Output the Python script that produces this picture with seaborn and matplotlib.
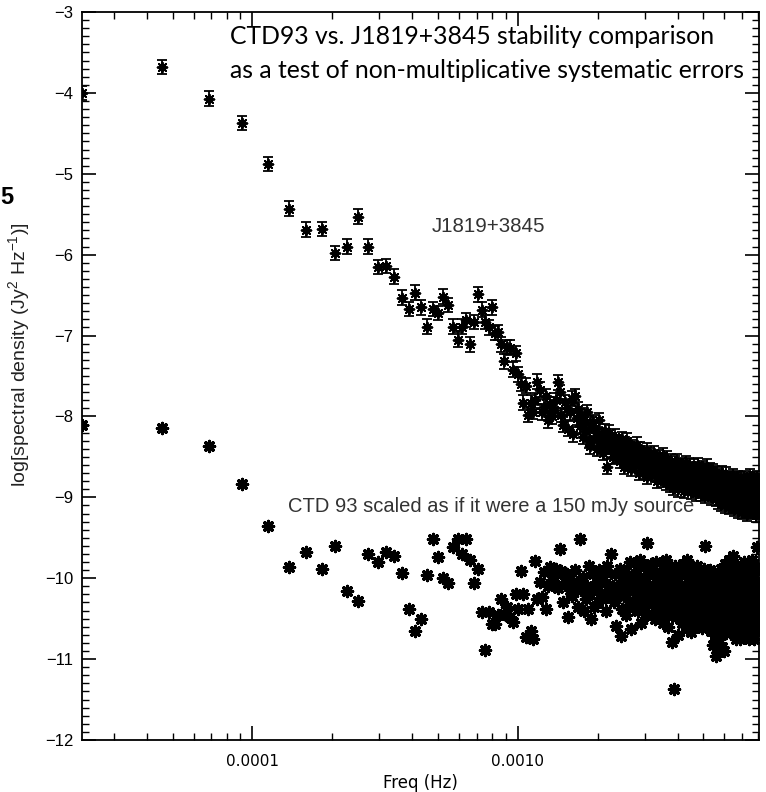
import numpy as np
import matplotlib
matplotlib.use("Agg")
import matplotlib.pyplot as plt
import seaborn as sns
from matplotlib.ticker import FixedLocator, FixedFormatter, MultipleLocator, LogLocator, NullFormatter

# ---------------- data ----------------
freq_step_hz = 2.28e-5          # periodogram frequency spacing (Hz)

j1819_logpsd = [
    -4.00, -3.68, -4.07, -4.37, -4.88, -5.43, -5.69, -5.68, -5.98, -5.90,
    -5.53, -5.90, -6.15, -6.14, -6.27, -6.53, -6.67, -6.47, -6.65, -6.89,
    -6.67, -6.72, -6.52, -6.62, -6.89, -7.05, -6.89, -6.81, -7.11, -6.83,
    -6.49, -6.68, -6.83, -6.90, -6.65, -6.97, -6.96, -7.11, -7.32, -7.14,
    -7.15, -7.42, -7.22, -7.48, -7.60, -7.83, -7.62, -7.98, -7.83, -7.94,
    -7.80, -7.57, -7.67, -7.95, -7.88, -7.75, -8.05, -7.85, -8.00, -7.92,
    -7.80, -7.58, -7.70, -7.98, -8.10, -7.82, -7.89, -8.15, -7.95, -7.78,
    -8.22, -7.75, -8.02, -7.91, -8.12, -7.98, -8.25, -8.05, -8.18, -7.95,
    -8.30, -8.37, -8.10, -8.07, -8.28, -8.15, -8.40, -8.22, -8.05, -8.33,
    -8.25, -8.45, -8.18, -8.35, -8.62, -8.28, -8.20, -8.42, -8.30, -8.50,
    -8.38, -8.25, -8.48, -8.32, -8.32, -8.55, -8.40, -8.28, -8.45, -8.62,
    -8.35, -8.50, -8.30, -8.58, -8.42, -8.48, -8.65, -8.38, -8.49, -8.55,
    -8.45, -8.60, -8.35, -8.52, -8.70, -8.48, -8.40, -8.62, -8.55, -8.45,
    -8.68, -8.50, -8.58, -8.42, -8.75, -8.55, -8.62, -8.48, -8.70, -8.58,
    -8.52, -8.65, -8.45, -8.72, -8.60, -8.55, -8.80, -8.62, -8.50, -8.68,
    -8.55, -8.72, -8.62, -8.48, -8.78, -8.65, -8.58, -8.82, -8.68, -8.52,
    -8.75, -8.60, -8.70, -8.85, -8.55, -8.66, -8.78, -8.62, -8.88, -8.70,
    -8.58, -8.74, -8.68, -8.82, -8.56, -8.90, -8.72, -8.64, -8.80, -8.60,
    -8.76, -8.85, -8.62, -8.70, -8.92, -8.66, -8.78, -8.58, -8.84, -8.72,
    -8.68, -8.88, -8.75, -8.60, -8.82, -8.70, -8.93, -8.65, -8.78, -8.74,
    -8.80, -8.62, -8.88, -8.72, -8.95, -8.68, -8.84, -8.76, -8.60, -8.90,
    -8.74, -8.82, -8.66, -8.96, -8.78, -8.70, -8.88, -8.64, -8.85, -8.92,
    -8.72, -8.80, -8.98, -8.68, -8.86, -8.76, -8.62, -8.94, -8.82, -8.70,
    -8.90, -8.78, -8.66, -9.00, -8.84, -8.74, -8.92, -8.80, -8.68, -8.96,
    -8.82, -8.70, -8.88, -9.02, -8.76, -8.86, -8.72, -8.94, -8.80, -9.05,
    -8.84, -8.74, -8.96, -8.88, -9.08, -8.78, -8.92, -8.70, -9.00, -8.86,
    -8.76, -9.04, -8.90, -8.80, -9.10, -8.84, -8.72, -8.98, -8.88, -9.06,
    -8.82, -8.94, -8.76, -9.12, -8.86, -8.98, -8.78, -9.02, -8.90, -8.80,
    -9.08, -8.88, -8.96, -8.74, -9.14, -8.92, -8.84, -9.00, -8.78, -9.10,
    -8.90, -8.82, -9.04, -8.96, -8.76, -9.16, -8.88, -9.00, -8.84, -9.06,
    -8.86, -9.02, -8.78, -9.12, -8.94, -8.84, -9.18, -8.90, -9.04, -8.80,
    -9.08, -8.92, -8.76, -9.14, -8.98, -8.86, -9.06, -8.82, -9.20, -8.94,
    -8.88, -9.10, -8.80, -9.02, -8.96, -9.16, -8.84, -9.04, -8.74, -9.12,
    -8.92, -9.00, -8.82, -9.18, -8.90, -9.06, -8.78, -9.10, -8.96, -8.86,
    -9.14, -8.94, -9.02, -8.80, -9.22, -8.92, -9.08, -8.86, -9.00, -8.76,
    -9.12, -8.96, -9.04, -8.84, -9.18, -8.92,
]
j1819_err = 0.09

ctd93_logpsd = [
    -8.10, -8.14, -8.37, -8.83, -9.36, -9.86, -9.67, -9.89, -9.60, -10.16,
    -10.28, -9.70, -9.80, -9.68, -9.73, -9.93, -10.38, -10.65, -10.51, -9.96,
    -9.51, -9.74, -10.00, -10.06, -9.62, -9.51, -9.70, -9.52, -9.77, -10.06,
    -9.89, -10.42, -10.89, -10.42, -10.57, -10.57, -10.45, -10.26, -10.44, -10.35,
    -10.48, -10.54, -10.20, -10.38, -9.91, -10.20, -10.73, -10.38, -10.65, -10.75,
    -9.79, -10.26, -10.05, -10.23, -9.92, -10.38, -10.10, -9.86, -10.02, -9.98,
    -9.89, -10.12, -9.64, -9.91, -10.30, -10.05, -9.95, -10.48, -10.14, -10.22,
    -10.05, -9.90, -10.09, -10.35, -9.52, -10.15, -9.98, -10.40, -10.26, -10.10,
    -9.85, -10.20, -10.51, -9.95, -10.36, -10.12, -10.05, -10.30, -9.90, -10.18,
    -10.26, -10.02, -9.92, -10.40, -9.85, -10.15, -10.08, -9.70, -10.25, -10.14,
    -10.30, -9.95, -10.59, -10.10, -10.20, -9.88, -10.72, -10.38, -10.05, -10.22,
    -9.92, -10.45, -10.15, -10.00, -10.28, -9.80, -10.63, -9.98, -10.35, -10.12,
    -10.05, -10.25, -9.90, -10.40, -10.15, -9.78, -10.30, -10.55, -10.02, -10.18,
    -9.85, -10.35, -10.08, -9.56, -10.45, -10.20, -9.95, -10.28, -9.83, -10.12,
    -10.30, -9.92, -10.18, -10.50, -10.05, -9.80, -10.38, -10.12, -10.25, -9.95,
    -10.42, -10.08, -10.22, -9.88, -10.55, -10.15, -10.32, -9.77, -10.45, -10.02,
    -10.20, -10.60, -9.90, -10.28, -10.10, -10.40, -10.79, -10.05, -10.35, -11.37,
    -10.15, -9.85, -10.48, -10.22, -10.00, -10.70, -10.30, -9.92, -10.42, -10.18,
    -10.08, -10.55, -9.82, -10.25, -10.38, -10.12, -9.95, -10.45, -10.20, -10.62,
    -9.77, -10.32, -10.10, -10.50, -10.02, -10.28, -10.67, -9.90, -10.40, -10.15,
    -10.22, -10.48, -9.95, -10.35, -10.10, -10.58, -10.25, -9.85, -10.42, -10.18,
    -10.05, -10.52, -10.30, -9.92, -10.40, -10.15, -10.62, -10.00, -10.35, -10.22,
    -9.88, -9.60, -10.45, -10.12, -10.30, -10.55, -9.98, -10.25, -10.40, -10.08,
    -10.50, -10.18, -9.90, -10.35, -10.65, -10.05, -10.28, -10.45, -10.82, -10.15,
    -9.95, -10.38, -10.70, -10.22, -10.96, -10.10, -10.55, -10.30, -10.88, -10.02,
    -10.40, -10.75, -10.15, -10.60, -9.88, -10.32, -10.85, -10.20, -10.50, -10.05,
    -10.35, -10.90, -10.12, -9.82, -10.45, -10.25, -10.68, -9.95, -10.38, -10.18,
    -10.55, -10.08, -10.30, -9.78, -10.48, -10.20, -10.62, -10.02, -10.40, -10.15,
    -9.90, -10.52, -10.28, -9.73, -10.42, -10.12, -10.58, -10.00, -10.35, -10.75,
    -10.22, -9.85, -10.48, -10.10, -10.65, -10.30, -9.95, -10.42, -10.18, -10.75,
    -10.05, -10.55, -10.25, -9.88, -10.40, -10.15, -10.62, -9.98, -10.35, -10.20,
    -10.50, -10.08, -9.80, -10.45, -10.28, -10.70, -10.02, -10.38, -10.12, -9.92,
    -10.58, -10.22, -10.40, -9.85, -10.30, -10.75, -10.10, -10.48, -10.18, -9.95,
    -10.60, -10.25, -10.05, -10.42, -9.78, -10.32, -10.55, -10.15, -10.75, -10.00,
    -10.38, -10.20, -9.90, -10.52, -10.28, -10.08, -10.65, -10.35, -9.62, -10.45,
    -10.12, -10.30, -9.88, -10.58, -10.22, -10.40,
]

freq_hz = freq_step_hz * np.arange(1, len(j1819_logpsd) + 1)

x_tick_values = [1e-4, 1e-3]
x_tick_labels = ["0.0001", "0.0010"]
y_tick_values = [-12, -11, -10, -9, -8, -7, -6, -5, -4, -3]

title_lines = ["CTD93 vs. J1819+3845 stability comparison",
               "as a test of non-multiplicative systematic errors"]
label_j1819 = "J1819+3845"
label_ctd = "CTD 93 scaled as if it were a 150 mJy source"
xlabel = "Freq (Hz)"
ylabel = r"log[spectral density (Jy$^{2}$ Hz$^{-1}$)]"

# ---------------- plot ----------------
sns.set_theme(style="white")
plt.rcParams["font.family"] = ["Liberation Sans", "DejaVu Sans"]
plt.rcParams["mathtext.fontset"] = "custom"
plt.rcParams["mathtext.rm"] = "Liberation Sans"
plt.rcParams["mathtext.it"] = "Liberation Sans:italic"

fig = plt.figure(figsize=(7.66, 7.92), dpi=100)
L, R, T, B = 82, 759, 12, 740
W, H = 766, 792
ax = fig.add_axes([L / W, 1 - B / H, (R - L) / W, (B - T) / H])

ax.set_xscale("log")

ax.errorbar(freq_hz, j1819_logpsd, yerr=j1819_err, fmt="none",
            ecolor="black", elinewidth=1.3, capsize=3.4, capthick=1.3, zorder=2)
sns.scatterplot(x=freq_hz, y=j1819_logpsd, marker=(8, 2, 0), s=48,
                color="black", linewidth=1.4, ax=ax, zorder=3, legend=False)
sns.scatterplot(x=freq_hz, y=ctd93_logpsd, marker=(8, 2, 0), s=55,
                color="black", linewidth=2.3, ax=ax, zorder=3, legend=False)

ax.set_xlim(2.28e-5, 8.1e-3)
ax.set_ylim(-12, -3)

ax.xaxis.set_major_locator(FixedLocator(x_tick_values))
ax.xaxis.set_major_formatter(FixedFormatter(x_tick_labels))
ax.xaxis.set_minor_locator(LogLocator(base=10, subs=np.arange(2, 10)))
ax.xaxis.set_minor_formatter(NullFormatter())
ax.yaxis.set_major_locator(FixedLocator(y_tick_values))
ax.yaxis.set_minor_locator(MultipleLocator(0.1))

ax.tick_params(which="major", direction="in", length=10, width=1.2,
               top=True, right=True, bottom=True, left=True, color="black")
ax.tick_params(which="minor", direction="in", length=5, width=1.0,
               top=True, right=True, bottom=True, left=True, color="black")
ax.tick_params(axis="y", which="major", labelsize=12, pad=6, labelcolor="black")
ax.tick_params(axis="x", which="major", labelsize=11, pad=10, labelcolor="black")
for lab in ax.get_xticklabels():
    lab.set_fontfamily("DejaVu Sans")

for sp in ax.spines.values():
    sp.set_visible(True)
    sp.set_color("black")
    sp.set_linewidth(1.3)
ax.grid(False)

ax.set_xlabel(xlabel, fontsize=12, family="DejaVu Sans", labelpad=4, color="black")

fig.text(19 / W, 1 - 355 / H, ylabel, rotation=90, ha="center", va="center",
         fontsize=14, color="#222222")

ax.text((230 - L) / (R - L), (B - 37) / (B - T), title_lines[0],
        transform=ax.transAxes, ha="left", va="center", fontsize=17.8,
        family="Lato", color="black")
ax.text((230 - L) / (R - L), (B - 70) / (B - T), title_lines[1],
        transform=ax.transAxes, ha="left", va="center", fontsize=17.8,
        family="Lato", color="black")
ax.text((432 - L) / (R - L), (B - 227) / (B - T), label_j1819,
        transform=ax.transAxes, ha="left", va="center", fontsize=14.8,
        color="#333333")
ax.text((288 - L) / (R - L), (B - 507) / (B - T), label_ctd,
        transform=ax.transAxes, ha="left", va="center", fontsize=14.5,
        color="#333333", zorder=5)

# fragment of a neighbouring panel's text at the left edge
fig.text(0.0, 1 - 198 / H, "5", fontsize=17, fontweight="bold",
         ha="left", va="center", color="black")

fig.savefig("out.png", dpi=100)
